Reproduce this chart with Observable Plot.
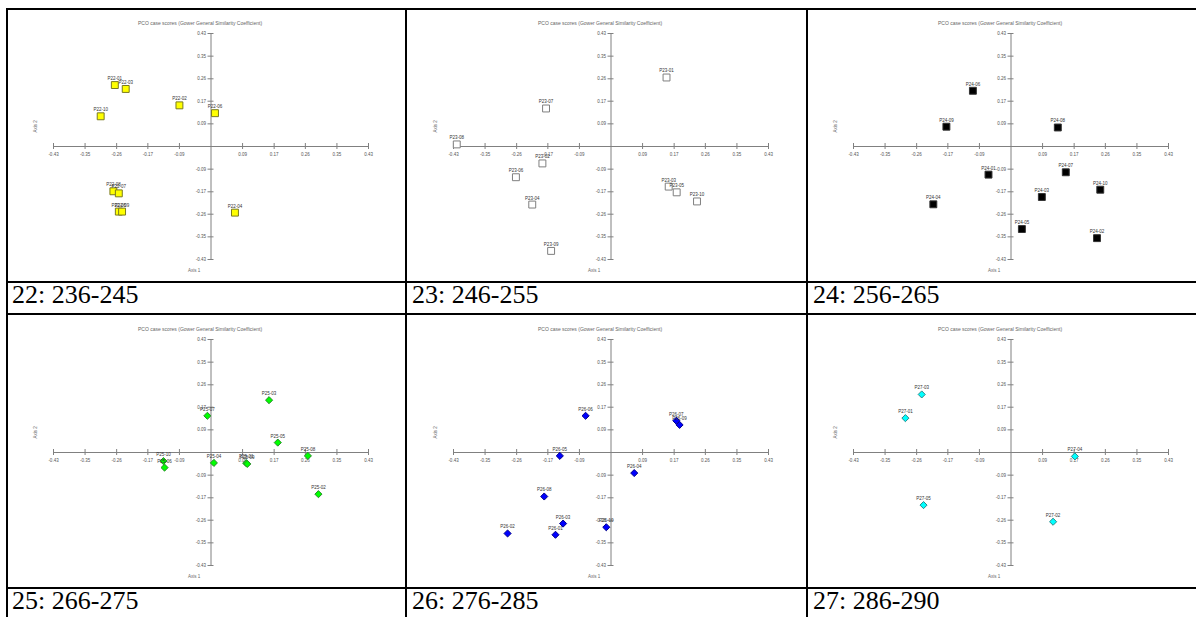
<!DOCTYPE html>
<html><head><meta charset="utf-8">
<script src="https://cdn.jsdelivr.net/npm/d3@7"></script>
<script src="https://cdn.jsdelivr.net/npm/@observablehq/plot@0.6"></script>
<style>
html,body{margin:0;padding:0;background:#fff;width:1196px;height:617px;overflow:hidden;position:relative;font-family:"Liberation Sans",Arial,sans-serif}
.line{position:absolute;background:#000;z-index:5}
.cap{position:absolute;font-family:"Liberation Serif","Times New Roman",serif;font-size:26px;line-height:1;color:#000;white-space:nowrap}
.panel{position:absolute;z-index:1;width:400px;height:280px}
.panel svg{display:block;max-width:none !important;width:400px;height:280px}
</style></head><body>
<script>
// ---- data ----
const chartTitle = "PCO case scores (Gower General Similarity Coefficient)";
const xAxisTitle = "Axis 1";
const yAxisTitle = "Axis 2";
const tickValues = [-0.434, -0.347, -0.260, -0.174, -0.087, 0.087, 0.174, 0.260, 0.347, 0.434];
const tickLabels = ["-0.43", "-0.35", "-0.26", "-0.17", "-0.09", "0.09", "0.17", "0.26", "0.35", "0.43"];
const captions = ["22: 236-245", "23: 246-255", "24: 256-265", "25: 266-275", "26: 276-285", "27: 286-290"];

const p22Labels = ["P22-01", "P22-03", "P22-10", "P22-02", "P22-06", "P22-08", "P22-07", "P22-05", "P22-09", "P22-04"];
const p22X = [-0.265, -0.235, -0.304, -0.087, 0.011, -0.269, -0.254, -0.254, -0.245, 0.066];
const p22Y = [0.236, 0.221, 0.116, 0.158, 0.128, -0.172, -0.180, -0.250, -0.250, -0.254];

const p23Labels = ["P23-01", "P23-07", "P23-08", "P23-02", "P23-06", "P23-04", "P23-09", "P23-03", "P23-05", "P23-10"];
const p23X = [0.153, -0.179, -0.425, -0.189, -0.262, -0.217, -0.165, 0.159, 0.181, 0.237];
const p23Y = [0.265, 0.146, 0.008, -0.065, -0.118, -0.223, -0.401, -0.154, -0.176, -0.211];

const p24Labels = ["P24-06", "P24-09", "P24-08", "P24-01", "P24-07", "P24-10", "P24-03", "P24-04", "P24-05", "P24-02"];
const p24X = [-0.105, -0.178, 0.129, -0.062, 0.151, 0.246, 0.085, -0.214, 0.030, 0.237];
const p24Y = [0.214, 0.076, 0.073, -0.108, -0.099, -0.166, -0.194, -0.222, -0.317, -0.352];

const p25Labels = ["P25-03", "P25-07", "P25-05", "P25-08", "P25-02", "P25-10", "P25-06", "P25-04", "P25-01", "P25-09"];
const p25X = [0.160, -0.010, 0.184, 0.267, 0.296, -0.131, -0.128, 0.008, 0.097, 0.100];
const p25Y = [0.201, 0.141, 0.038, -0.013, -0.160, -0.033, -0.058, -0.040, -0.041, -0.044];

const p26Labels = ["P26-06", "P26-07", "P26-09", "P26-05", "P26-04", "P26-08", "P26-03", "P26-02", "P26-01", "P26-10"];
const p26X = [-0.070, 0.180, 0.189, -0.141, 0.064, -0.184, -0.132, -0.285, -0.153, -0.013];
const p26Y = [0.141, 0.122, 0.106, -0.013, -0.079, -0.169, -0.273, -0.311, -0.316, -0.287];

const p27Labels = ["P27-03", "P27-01", "P27-04", "P27-05", "P27-02"];
const p27X = [-0.246, -0.291, 0.176, -0.241, 0.116];
const p27Y = [0.223, 0.132, -0.015, -0.202, -0.266];

// ---- drawing ----
const panels = [
  {labels: p22Labels, xs: p22X, ys: p22Y, symbol: "square", r: 3.9, fill: "#ffff00", stroke: "#7a7a20", left: 7, top: 9},
  {labels: p23Labels, xs: p23X, ys: p23Y, symbol: "square", r: 3.9, fill: "#ffffff", stroke: "#7f7f7f", left: 407, top: 9},
  {labels: p24Labels, xs: p24X, ys: p24Y, symbol: "square", r: 3.9, fill: "#000000", stroke: "#333333", left: 807, top: 9},
  {labels: p25Labels, xs: p25X, ys: p25Y, symbol: "diamond2", r: 3.2, fill: "#00ff00", stroke: "#2a8a2a", left: 7, top: 315},
  {labels: p26Labels, xs: p26X, ys: p26Y, symbol: "diamond2", r: 3.2, fill: "#0000ff", stroke: "#00008a", left: 407, top: 315},
  {labels: p27Labels, xs: p27X, ys: p27Y, symbol: "diamond2", r: 3.2, fill: "#00ffff", stroke: "#2a8a8a", left: 807, top: 315}
];

const axisColor = "#808080";
const ticks = tickValues.map((v, i) => ({v, t: tickLabels[i]}));

function makePanel(p) {
  const pts = p.labels.map((l, i) => ({label: l, x: p.xs[i], y: p.ys[i]}));
  return Plot.plot({
    width: 400, height: 280,
    marginLeft: 46, marginRight: 39, marginTop: 24, marginBottom: 30,
    x: {domain: [-0.434, 0.434], axis: null},
    y: {domain: [-0.434, 0.434], axis: null},
    style: {background: "transparent", overflow: "visible", fontFamily: "'Liberation Sans', Arial, sans-serif"},
    marks: [
      Plot.ruleY([0], {stroke: axisColor, strokeWidth: 1}),
      Plot.ruleX([0], {stroke: axisColor, strokeWidth: 1}),
      Plot.ruleX(ticks, {x: "v", y1: 0, y2: 0, insetTop: -3, insetBottom: -3, stroke: axisColor}),
      Plot.ruleY(ticks, {y: "v", x1: 0, x2: 0, insetLeft: -3, insetRight: -3, stroke: axisColor}),
      Plot.text(ticks, {x: "v", y: 0, text: "t", dy: 8, fontSize: 4.5, fill: "#555"}),
      Plot.text(ticks, {x: 0, y: "v", text: "t", dx: -5, textAnchor: "end", fontSize: 4.5, fill: "#555"}),
      Plot.text([chartTitle], {frameAnchor: "top", dy: -12.5, dx: -11, fontSize: 5, fill: "#666"}),
      Plot.text([xAxisTitle], {frameAnchor: "bottom", dy: 12.5, dx: -17, fontSize: 4.5, fill: "#666"}),
      Plot.text([yAxisTitle], {frameAnchor: "left", y: 0, dx: -17.5, dy: -14, rotate: -90, fontSize: 4.5, fill: "#666"}),
      Plot.dot(pts, {x: "x", y: "y", symbol: p.symbol, r: p.r, fill: p.fill, stroke: p.stroke, strokeWidth: 1}),
      Plot.text(pts, {x: "x", y: "y", text: "label", dy: -6.5, fontSize: 4.5, fill: "#333"})
    ]
  });
}

panels.forEach(p => {
  const div = document.createElement("div");
  div.className = "panel";
  div.style.left = p.left + "px";
  div.style.top = p.top + "px";
  div.appendChild(makePanel(p));
  document.body.appendChild(div);
});

// table rules
function line(l, t, w, h) {
  const d = document.createElement("div");
  d.className = "line";
  Object.assign(d.style, {left: l + "px", top: t + "px", width: w + "px", height: h + "px"});
  document.body.appendChild(d);
}
line(6, 8, 1190, 2);
line(6, 281, 1190, 2);
line(6, 313, 1190, 2);
line(6, 587, 1190, 2);
line(6, 8, 2, 609);
line(405, 8, 2, 609);
line(806, 8, 2, 609);

// captions
const capPos = [[12, 282], [412, 282], [813, 282], [12, 588], [412, 588], [813, 588]];
captions.forEach((c, i) => {
  const d = document.createElement("div");
  d.className = "cap";
  d.textContent = c;
  d.style.left = capPos[i][0] + "px";
  d.style.top = capPos[i][1] + "px";
  document.body.appendChild(d);
});
</script>
</body></html>
